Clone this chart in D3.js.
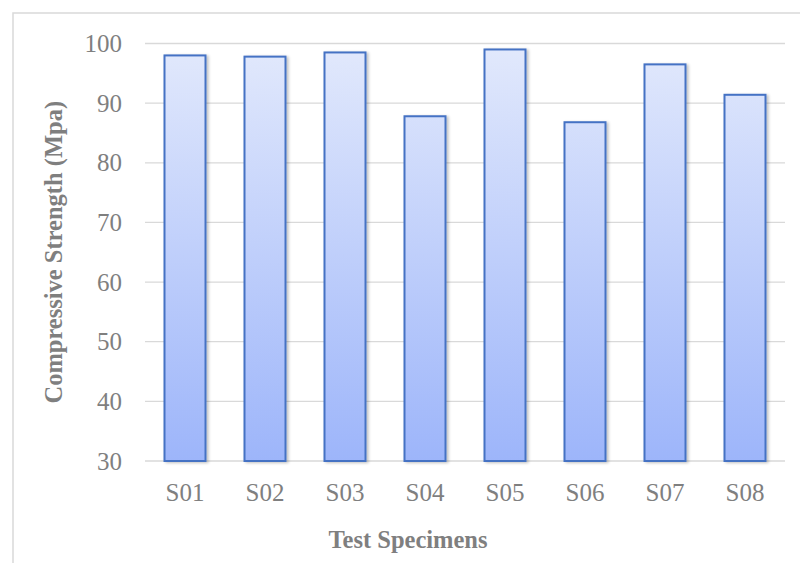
<!DOCTYPE html>
<html>
<head>
<meta charset="utf-8">
<script src="https://cdn.jsdelivr.net/npm/d3@7"></script>
<style>
  html, body { margin: 0; padding: 0; background: #fff; }
  svg { display: block; }
</style>
</head>
<body>
<svg id="chart" width="800" height="563"></svg>
<script>
// Compressive strength of the eight test specimens
const categories = ["S01", "S02", "S03", "S04", "S05", "S06", "S07", "S08"];
const strength = [98.0, 97.8, 98.5, 87.8, 99.0, 86.8, 96.5, 91.4];
const yTicks = [30, 40, 50, 60, 70, 80, 90, 100];
const xTitle = "Test Specimens";
const yTitle = "Compressive Strength (Mpa)";

const svg = d3.select("#chart");
const font = "'Liberation Serif', 'Times New Roman', serif";
const textColor = "#7f7f7f";

const plot = { left: 145, right: 785, top: 43.5, bottom: 461 };

const x = d3.scaleBand()
  .domain(categories)
  .range([plot.left, plot.right])
  .paddingInner(0.4875)
  .paddingOuter(0.4875 / 2);

const y = d3.scaleLinear()
  .domain([30, 100])
  .range([plot.bottom, plot.top]);

// chart frame
svg.append("rect")
  .attr("x", 13).attr("y", 13)
  .attr("width", 820).attr("height", 600)
  .attr("fill", "#fff")
  .attr("stroke", "#d9d9d9")
  .attr("stroke-width", 1.5);

const defs = svg.append("defs");
const grad = defs.append("linearGradient")
  .attr("id", "barFill")
  .attr("x1", 0).attr("y1", 0).attr("x2", 0).attr("y2", 1)
  .attr("gradientUnits", "userSpaceOnUse")
  .attr("x1", 0).attr("y1", y(100)).attr("x2", 0).attr("y2", y(30));
grad.append("stop").attr("offset", "0%").attr("stop-color", "#e2e9fc");
grad.append("stop").attr("offset", "100%").attr("stop-color", "#9db5fa");

const shadow = defs.append("filter")
  .attr("id", "barShadow")
  .attr("x", "-20%").attr("y", "-5%").attr("width", "150%").attr("height", "115%");
shadow.append("feGaussianBlur").attr("in", "SourceAlpha").attr("stdDeviation", 1.5).attr("result", "blur");
shadow.append("feOffset").attr("in", "blur").attr("dx", 2).attr("dy", 1).attr("result", "off");
shadow.append("feComponentTransfer").attr("in", "off").attr("result", "soft")
  .append("feFuncA").attr("type", "linear").attr("slope", 0.25);
const merge = shadow.append("feMerge");
merge.append("feMergeNode").attr("in", "soft");
merge.append("feMergeNode").attr("in", "SourceGraphic");

// horizontal gridlines
svg.append("g")
  .selectAll("line")
  .data(yTicks)
  .join("line")
  .attr("x1", plot.left).attr("x2", plot.right)
  .attr("y1", d => y(d)).attr("y2", d => y(d))
  .attr("stroke", "#d9d9d9")
  .attr("stroke-width", 1.3);

// bars
svg.append("g")
  .selectAll("rect")
  .data(categories.map((c, i) => ({ c, v: strength[i] })))
  .join("rect")
  .attr("x", d => x(d.c))
  .attr("y", d => y(d.v))
  .attr("width", x.bandwidth())
  .attr("height", d => y(30) - y(d.v))
  .attr("fill", "url(#barFill)")
  .attr("stroke", "#4472c4")
  .attr("stroke-width", 2)
  .attr("filter", "url(#barShadow)");

// y tick labels
svg.append("g")
  .selectAll("text")
  .data(yTicks)
  .join("text")
  .attr("x", 122)
  .attr("y", d => y(d))
  .attr("dy", "0.34em")
  .attr("text-anchor", "end")
  .attr("font-family", font)
  .attr("font-size", 25)
  .attr("fill", textColor)
  .text(d => d);

// x tick labels
svg.append("g")
  .selectAll("text")
  .data(categories)
  .join("text")
  .attr("x", d => x(d) + x.bandwidth() / 2)
  .attr("y", 501)
  .attr("text-anchor", "middle")
  .attr("font-family", font)
  .attr("font-size", 25)
  .attr("fill", textColor)
  .text(d => d);

// axis titles
svg.append("text")
  .attr("x", 408)
  .attr("y", 548)
  .attr("text-anchor", "middle")
  .attr("font-family", font)
  .attr("font-size", 24.5)
  .attr("font-weight", "bold")
  .attr("fill", textColor)
  .text(xTitle);

svg.append("text")
  .attr("transform", `translate(62, ${(plot.top + plot.bottom) / 2}) rotate(-90)`)
  .attr("text-anchor", "middle")
  .attr("font-family", font)
  .attr("font-size", 24.5)
  .attr("font-weight", "bold")
  .attr("fill", textColor)
  .text(yTitle);
</script>
</body>
</html>
